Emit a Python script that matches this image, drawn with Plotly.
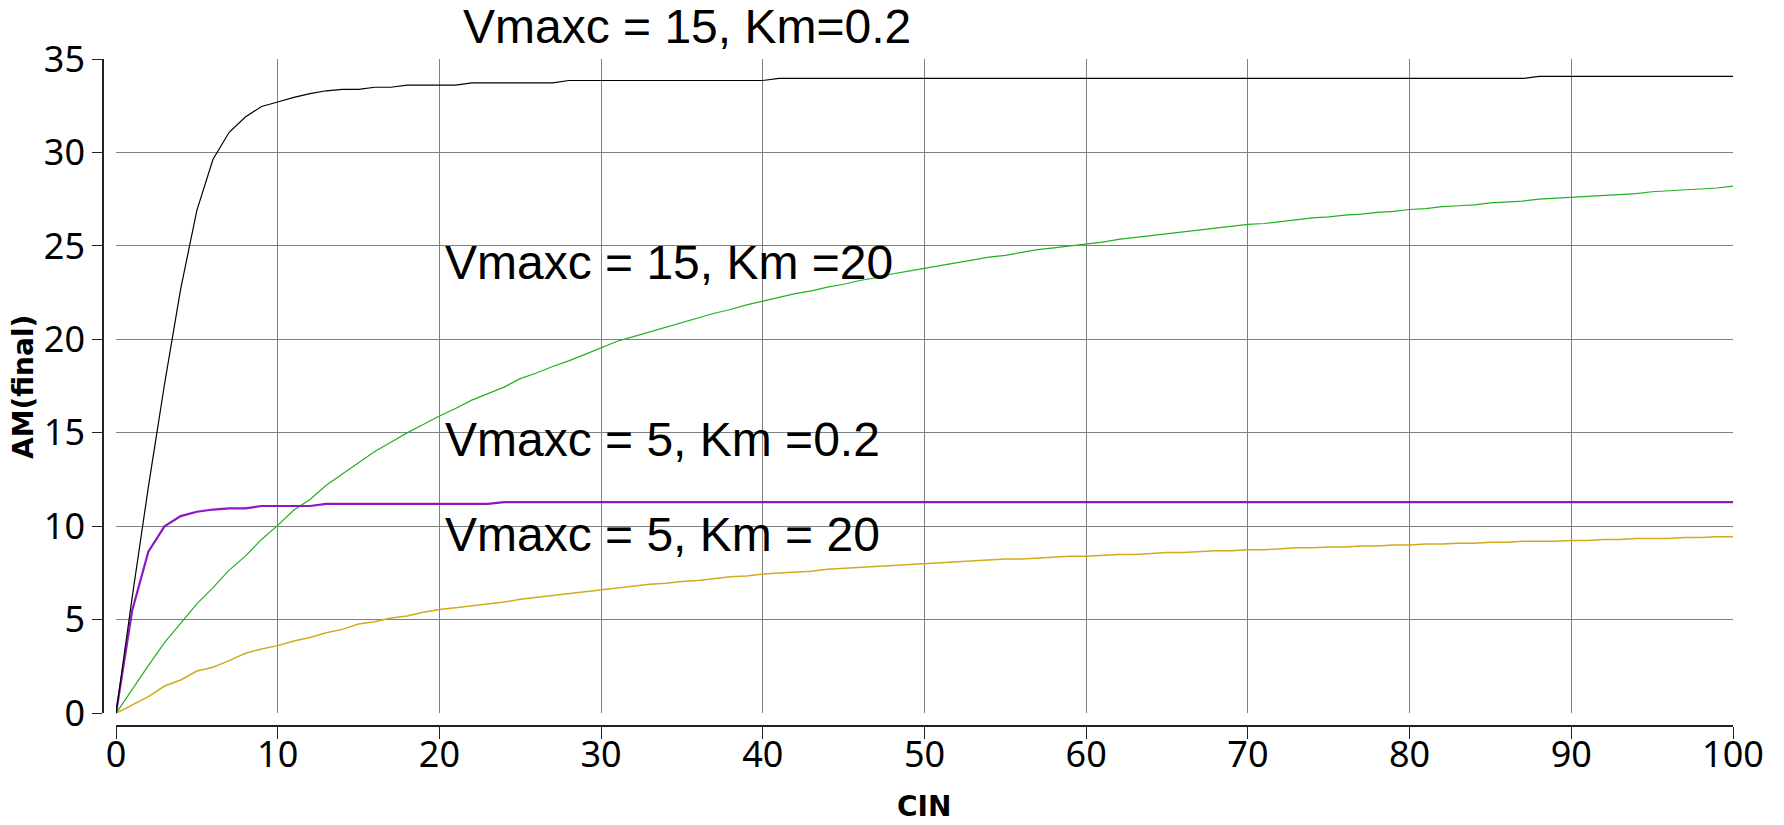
import plotly.graph_objects as go

cin = list(range(0, 101))

am_v15_km02 = [0, 6.2, 12.1, 17.6, 22.7, 26.9, 29.64, 31.08, 31.9, 32.46,
               32.7, 32.95, 33.15, 33.3, 33.38, 33.38, 33.49, 33.49, 33.6, 33.6,
               33.6, 33.6, 33.72, 33.72, 33.72, 33.72, 33.72, 33.72, 33.85, 33.85,
               33.85, 33.85, 33.85, 33.85, 33.85, 33.85, 33.85, 33.85, 33.85, 33.85,
               33.85, 33.96, 33.96, 33.96, 33.96, 33.96, 33.96, 33.96, 33.96, 33.96,
               33.96, 33.96, 33.96, 33.96, 33.96, 33.96, 33.96, 33.96, 33.96, 33.96,
               33.96, 33.96, 33.96, 33.96, 33.96, 33.96, 33.96, 33.96, 33.96, 33.96,
               33.96, 33.96, 33.96, 33.96, 33.96, 33.96, 33.96, 33.96, 33.96, 33.96,
               33.96, 33.96, 33.96, 33.96, 33.96, 33.96, 33.96, 33.96, 34.07, 34.07,
               34.07, 34.07, 34.07, 34.07, 34.07, 34.07, 34.07, 34.07, 34.07, 34.07,
               34.07]

am_v15_km20 = [0, 1.3, 2.55, 3.78, 4.81, 5.85, 6.72, 7.66, 8.41, 9.3,
               10.05, 10.87, 11.44, 12.2, 12.8, 13.4, 14.0, 14.5, 15.0, 15.45,
               15.9, 16.3, 16.75, 17.1, 17.45, 17.9, 18.2, 18.55, 18.85, 19.2,
               19.55, 19.9, 20.15, 20.4, 20.65, 20.9, 21.15, 21.4, 21.6, 21.85,
               22.05, 22.25, 22.45, 22.6, 22.8, 22.95, 23.15, 23.3, 23.5, 23.65,
               23.8, 23.95, 24.1, 24.25, 24.4, 24.5, 24.65, 24.8, 24.9, 25.0,
               25.1, 25.2, 25.35, 25.45, 25.55, 25.65, 25.75, 25.85, 25.95, 26.05,
               26.15, 26.2, 26.3, 26.4, 26.5, 26.55, 26.65, 26.7, 26.8, 26.85,
               26.95, 27.0, 27.1, 27.15, 27.2, 27.3, 27.35, 27.4, 27.5, 27.55,
               27.6, 27.65, 27.7, 27.75, 27.8, 27.9, 27.95, 28.0, 28.05, 28.1,
               28.2]

am_v5_km02 = [0, 5.5, 8.65, 10.0, 10.55, 10.78, 10.9, 10.96, 10.96, 11.09,
              11.09, 11.09, 11.09, 11.2, 11.2, 11.2, 11.2, 11.2, 11.2, 11.2,
              11.2, 11.2, 11.2, 11.2, 11.3, 11.3, 11.3, 11.3, 11.3, 11.3,
              11.3, 11.3, 11.3, 11.3, 11.3, 11.3, 11.3, 11.3, 11.3, 11.3,
              11.3, 11.3, 11.3, 11.3, 11.3, 11.3, 11.3, 11.3, 11.3, 11.3,
              11.3, 11.3, 11.3, 11.3, 11.3, 11.3, 11.3, 11.3, 11.3, 11.3,
              11.3, 11.3, 11.3, 11.3, 11.3, 11.3, 11.3, 11.3, 11.3, 11.3,
              11.3, 11.3, 11.3, 11.3, 11.3, 11.3, 11.3, 11.3, 11.3, 11.3,
              11.3, 11.3, 11.3, 11.3, 11.3, 11.3, 11.3, 11.3, 11.3, 11.3,
              11.3, 11.3, 11.3, 11.3, 11.3, 11.3, 11.3, 11.3, 11.3, 11.3,
              11.3]

am_v5_km20 = [0, 0.45, 0.89, 1.46, 1.78, 2.26, 2.46, 2.82, 3.21, 3.44,
              3.62, 3.87, 4.05, 4.31, 4.49, 4.78, 4.9, 5.1, 5.2, 5.4,
              5.55, 5.65, 5.75, 5.85, 5.95, 6.1, 6.2, 6.3, 6.4, 6.5,
              6.6, 6.7, 6.8, 6.9, 6.95, 7.05, 7.1, 7.2, 7.3, 7.35,
              7.45, 7.5, 7.55, 7.6, 7.7, 7.75, 7.8, 7.85, 7.9, 7.95,
              8.0, 8.05, 8.1, 8.15, 8.2, 8.25, 8.25, 8.3, 8.35, 8.4,
              8.4, 8.45, 8.5, 8.5, 8.55, 8.6, 8.6, 8.65, 8.7, 8.7,
              8.75, 8.75, 8.8, 8.85, 8.85, 8.9, 8.9, 8.95, 8.95, 9.0,
              9.0, 9.05, 9.05, 9.1, 9.1, 9.15, 9.15, 9.2, 9.2, 9.2,
              9.25, 9.25, 9.3, 9.3, 9.35, 9.35, 9.35, 9.4, 9.4, 9.45,
              9.45]

x_ticks = [0, 10, 20, 30, 40, 50, 60, 70, 80, 90, 100]
y_ticks = [0, 5, 10, 15, 20, 25, 30, 35]

labels = ["Vmaxc = 15, Km=0.2", "Vmaxc = 15, Km =20", "Vmaxc = 5, Km =0.2", "Vmaxc = 5, Km = 20"]

fig = go.Figure()
fig.add_trace(go.Scatter(x=cin, y=am_v5_km20, mode="lines", line=dict(color="#d2aa1e", width=1.5)))
fig.add_trace(go.Scatter(x=cin, y=am_v15_km20, mode="lines", line=dict(color="#22b022", width=1.2)))
fig.add_trace(go.Scatter(x=cin, y=am_v5_km02, mode="lines", line=dict(color="#8e16c4", width=2.2)))
fig.add_trace(go.Scatter(x=cin, y=am_v15_km02, mode="lines", line=dict(color="#000000", width=1.2)))

W, H = 1784, 825
L, R, T, B = 103, 51, 59, 99
pw = W - L - R
ph = H - T - B

tickfont = dict(family="Noto Sans", size=36, color="#000000")

fig.update_layout(
    width=W, height=H,
    margin=dict(l=L, r=R, t=T, b=B, pad=0),
    paper_bgcolor="white", plot_bgcolor="white",
    showlegend=False,
    xaxis=dict(range=[0, 100], tickvals=x_ticks, domain=[13 / pw, 1],
               anchor="free", position=0,
               showline=True, linecolor="#222222", linewidth=1.5,
               ticks="outside", ticklen=12, tickwidth=1, tickcolor="#222222",
               ticklabelstandoff=-15,
               showgrid=True, gridcolor="#808080", gridwidth=1, zeroline=False,
               tickfont=tickfont),
    yaxis=dict(range=[0, 35], tickvals=y_ticks, domain=[12.7 / ph, 1],
               anchor="free", position=0,
               showline=True, linecolor="#222222", linewidth=1.5,
               ticks="outside", ticklen=10, tickwidth=1, tickcolor="#222222",
               showgrid=True, gridcolor="#808080", gridwidth=1, zeroline=False,
               tickfont=tickfont),
)

ann_font = dict(family="Liberation Sans, Arial", color="#000000", size=48)
fig.add_annotation(x=(461 - L) / pw, y=(H - B - 26) / ph, xref="paper", yref="paper",
                   text=labels[0], showarrow=False, xanchor="left", yanchor="middle", font=ann_font)
fig.add_annotation(x=20.2, y=24.1, xref="x", yref="y", text=labels[1], showarrow=False,
                   xanchor="left", yanchor="middle", font=ann_font)
fig.add_annotation(x=20.2, y=14.67, xref="x", yref="y", text=labels[2], showarrow=False,
                   xanchor="left", yanchor="middle", font=ann_font)
fig.add_annotation(x=20.2, y=9.55, xref="x", yref="y", text=labels[3], showarrow=False,
                   xanchor="left", yanchor="middle", font=ann_font)

title_font = dict(family="DejaVu Sans", size=28, color="#000000")
fig.add_annotation(x=(23 - L) / pw, y=(H - B - 387) / ph, xref="paper", yref="paper",
                   text="<b>AM(final)</b>", showarrow=False,
                   textangle=-90, xanchor="center", yanchor="middle", font=title_font)
fig.add_annotation(x=(923.5 - L) / pw, y=(H - B - 806) / ph, xref="paper", yref="paper",
                   text="<b>CIN</b>", showarrow=False,
                   xanchor="center", yanchor="middle", font=title_font)

fig.write_html("out.html", config={"displayModeBar": False})
